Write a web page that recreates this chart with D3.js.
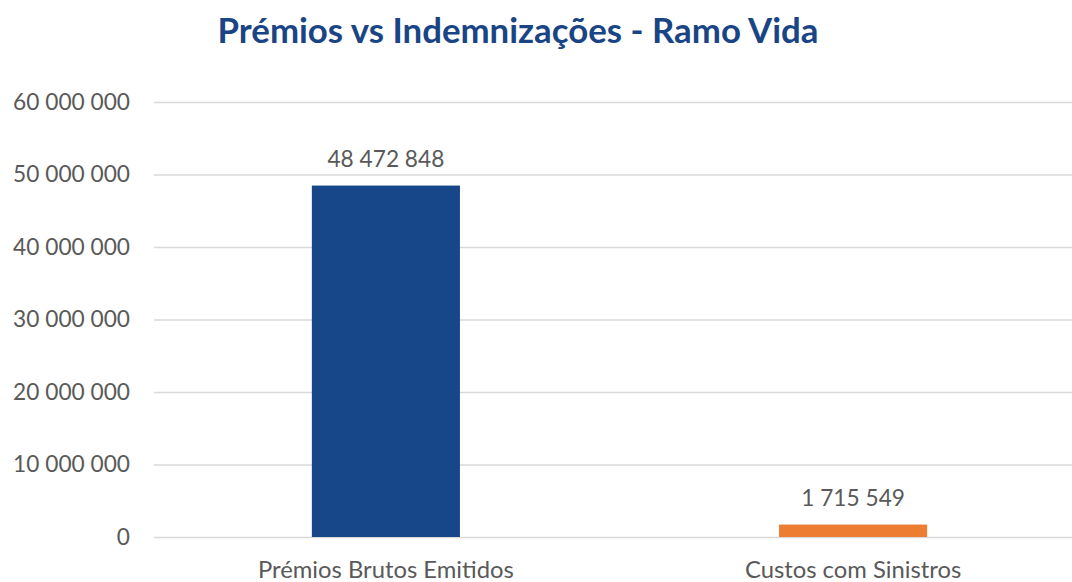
<!DOCTYPE html>
<html><head><meta charset="utf-8">
<script src="https://cdn.jsdelivr.net/npm/d3@7"></script>
<style>body{margin:0;background:#fff;}svg{display:block;}</style>
</head><body>
<svg id="c" width="1072" height="582"></svg>
<script>
const categories = ["Prémios Brutos Emitidos", "Custos com Sinistros"];
const values = [48472848, 1715549];
const colors = ["#174689", "#ED7D31"];
const tickValues = [0, 10000000, 20000000, 30000000, 40000000, 50000000, 60000000];
const title = "Prémios vs Indemnizações - Ramo Vida";

const svg = d3.select("#c");
const fmt = v => d3.format(",")(v).replace(/,/g, " ");
const font = "Lato, 'Open Sans', sans-serif";

const x = d3.scaleBand().domain(categories).range([153, 1086]).paddingInner(0.683).paddingOuter(0.34);
const y = d3.scaleLinear().domain([0, 60000000]).range([537, 102]);

svg.append("text").attr("x", 518).attr("y", 43).attr("text-anchor", "middle")
  .attr("font-family", font).attr("font-weight", "bold").attr("font-size", 34.8)
  .attr("fill", "#1A4585").text(title);

const yAxis = svg.append("g").attr("transform", "translate(154,0)")
  .call(d3.axisLeft(y).tickValues(tickValues).tickSize(-930).tickFormat(fmt));
yAxis.select(".domain").remove();
yAxis.selectAll("line").attr("stroke", "#d9d9d9").attr("stroke-width", 1.3);
yAxis.selectAll("text").attr("x", -24).attr("font-family", font).attr("font-size", 22.7).attr("fill", "#595959");

svg.selectAll("rect.bar").data(values).enter().append("rect")
  .attr("x", (d, i) => x(categories[i])).attr("width", x.bandwidth())
  .attr("y", d => y(d)).attr("height", d => y(0) - y(d))
  .attr("fill", (d, i) => colors[i]);

svg.selectAll("text.lbl").data(values).enter().append("text")
  .attr("x", (d, i) => x(categories[i]) + x.bandwidth() / 2).attr("y", d => y(d) - 19)
  .attr("text-anchor", "middle").attr("font-family", font).attr("font-size", 22.7).attr("fill", "#595959")
  .text(fmt);

const xAxis = svg.append("g").attr("transform", "translate(0,537)")
  .call(d3.axisBottom(x).tickSize(0));
xAxis.select(".domain").remove();
xAxis.selectAll("text").attr("dy", 0).attr("y", 41).attr("font-family", font).attr("font-size", 23.8).attr("fill", "#595959");
</script>
</body></html>
